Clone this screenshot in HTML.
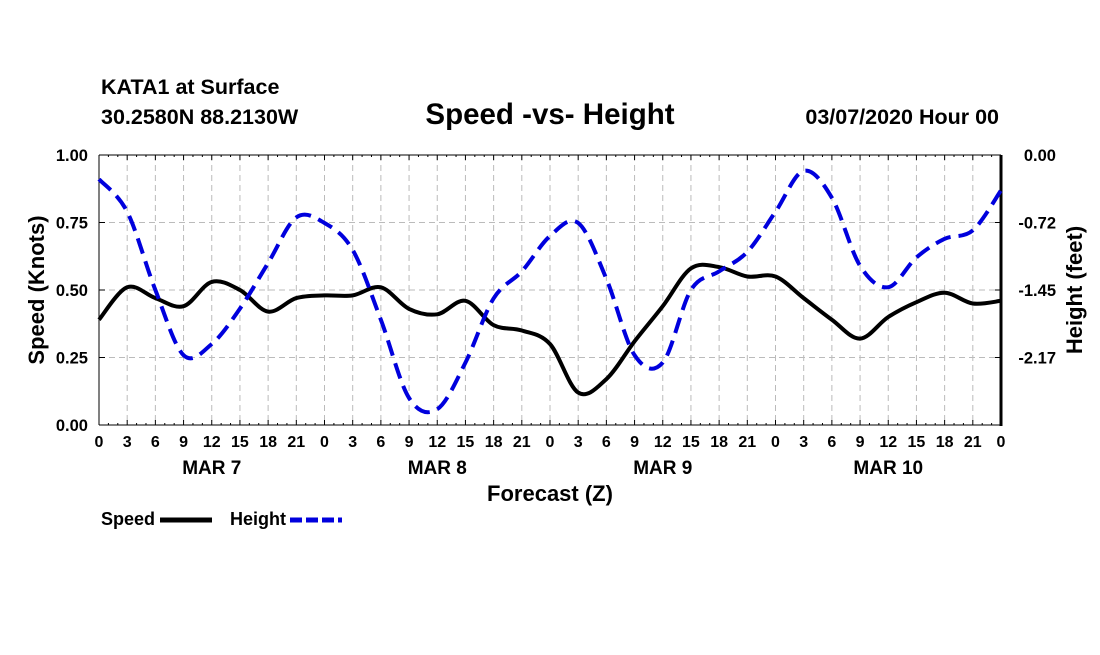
<!DOCTYPE html>
<html><head><meta charset="utf-8"><style>
body{margin:0;background:#fff;width:1100px;height:650px;overflow:hidden}
svg{font-family:"Liberation Sans",sans-serif}
</style></head><body>
<svg id="c" width="1100" height="650">
<text x="101" y="94" font-size="21.5" font-weight="bold">KATA1 at Surface</text>
<text x="101" y="124" font-size="21.5" font-weight="bold">30.2580N 88.2130W</text>
<text x="550" y="124" font-size="29.5" font-weight="bold" text-anchor="middle">Speed -vs- Height</text>
<text x="999" y="124" font-size="21.5" font-weight="bold" text-anchor="end">03/07/2020 Hour 00</text>
<g id="grid"></g><g id="axes"></g><g id="series"></g>
<text x="550" y="501" font-size="22" font-weight="bold" text-anchor="middle">Forecast (Z)</text>
<text transform="translate(44,290) rotate(-90)" font-size="22" font-weight="bold" text-anchor="middle">Speed (Knots)</text>
<text transform="translate(1082,290) rotate(-90)" font-size="22" font-weight="bold" text-anchor="middle">Height (feet)</text>
<g>
<text x="101" y="525" font-size="18" font-weight="bold">Speed</text>
<line x1="160" y1="520" x2="212" y2="520" stroke="#000" stroke-width="5"/>
<text x="230" y="525" font-size="18" font-weight="bold">Height</text>
<line x1="290" y1="520" x2="342" y2="520" stroke="#0000dd" stroke-width="5" stroke-dasharray="12,4"/>
</g>
</svg>
<script>
const hours=[0,3,6,9,12,15,18,21,24,27,30,33,36,39,42,45,48,51,54,57,60,63,66,69,72,75,78,81,84,87,90,93,96];
const speed=[0.39,0.51,0.47,0.44,0.53,0.50,0.42,0.47,0.48,0.48,0.51,0.43,0.41,0.46,0.37,0.35,0.30,0.12,0.17,0.31,0.44,0.58,0.585,0.55,0.55,0.47,0.39,0.32,0.40,0.455,0.49,0.45,0.46];
const height=[-0.26,-0.61,-1.45,-2.15,-2.03,-1.65,-1.16,-0.67,-0.73,-1.02,-1.77,-2.61,-2.73,-2.23,-1.54,-1.25,-0.87,-0.73,-1.33,-2.15,-2.23,-1.45,-1.25,-1.04,-0.61,-0.17,-0.46,-1.19,-1.42,-1.10,-0.90,-0.81,-0.38];
const leftTicks=["0.00","0.25","0.50","0.75","1.00"];
const rightTicks=["0.00","-0.72","-1.45","-2.17"];
const dayLabels=["MAR 7","MAR 8","MAR 9","MAR 10"];
const X0=99,X1=1001,Y0=155,Y1=425,HMAX=96,FMIN=-2.9;
const xs=h=>X0+(X1-X0)*h/HMAX;
const ys=v=>Y1-(Y1-Y0)*v;
const yh=f=>Y0+(Y1-Y0)*(f/FMIN);
const NS="http://www.w3.org/2000/svg";
function mk(p,t,a){const e=document.createElementNS(NS,t);for(const k in a)e.setAttribute(k,a[k]);p.appendChild(e);return e;}
const grid=document.getElementById('grid'),axes=document.getElementById('axes'),ser=document.getElementById('series');
for(let h=3;h<HMAX;h+=3){const g=mk(grid,'line',{x1:xs(h),x2:xs(h),y1:Y0,y2:Y1,stroke:'#bbb','stroke-dasharray':'6,4'});

}
for(let i=1;i<4;i++){const g=mk(grid,'line',{x1:X0,x2:X1,y1:ys(i*0.25),y2:ys(i*0.25),stroke:'#bbb','stroke-dasharray':'6,4'});

}
mk(axes,'line',{x1:X0,x2:X1,y1:Y0,y2:Y0,stroke:'#000','stroke-width':1});
mk(axes,'line',{x1:X0,x2:X1,y1:Y1,y2:Y1,stroke:'#000','stroke-width':1});
mk(axes,'line',{x1:X0,x2:X0,y1:Y0,y2:Y1,stroke:'#000','stroke-width':1});
mk(axes,'line',{x1:X1,x2:X1,y1:Y0,y2:Y1+1,stroke:'#000','stroke-width':3});
for(let h=0;h<=HMAX;h+=3){const x=xs(h);
mk(axes,'line',{x1:x,x2:x,y1:Y1,y2:Y1-5,stroke:'#000'});mk(axes,'line',{x1:x,x2:x,y1:Y0,y2:Y0+5,stroke:'#000'});
const t=mk(axes,'text',{x:x,y:Y1+22,'font-size':16,'font-weight':'bold','text-anchor':'middle'});t.textContent=String(h%24);

}
for(let h=1;h<HMAX;h++){if(h%3){const x=xs(h);mk(axes,'line',{x1:x,x2:x,y1:Y0,y2:Y0+2,stroke:'#000'});mk(axes,'line',{x1:x,x2:x,y1:Y1,y2:Y1-2,stroke:'#000'});}}
dayLabels.forEach((d,i)=>{const t=mk(axes,'text',{x:xs(12+24*i),y:Y1+49,'font-size':19,'font-weight':'bold','text-anchor':'middle'});t.textContent=d;

});
leftTicks.forEach((l,i)=>{const y=ys(i*0.25);mk(axes,'line',{x1:X0,x2:X0+6,y1:y,y2:y,stroke:'#000'});
const t=mk(axes,'text',{x:X0-11,y:y+6,'font-size':16.5,'font-weight':'bold','text-anchor':'end'});t.textContent=l;

});
rightTicks.forEach((l,i)=>{const y=yh(-0.725*i);mk(axes,'line',{x1:X1,x2:X1-6,y1:y,y2:y,stroke:'#000'});
const t=mk(axes,'text',{x:X1+55,y:y+6,'font-size':16.5,'font-weight':'bold','text-anchor':'end'});t.textContent=l;

});
function path(pts){let d=`M${pts[0][0]},${pts[0][1]}`;for(let i=0;i<pts.length-1;i++){const p0=pts[Math.max(i-1,0)],p1=pts[i],p2=pts[i+1],p3=pts[Math.min(i+2,pts.length-1)];
d+=`C${p1[0]+(p2[0]-p0[0])/6},${p1[1]+(p2[1]-p0[1])/6} ${p2[0]-(p3[0]-p1[0])/6},${p2[1]-(p3[1]-p1[1])/6} ${p2[0]},${p2[1]}`;}return d;}
const sp=mk(ser,'path',{d:path(hours.map((h,i)=>[xs(h),ys(speed[i])])),fill:'none',stroke:'#000','stroke-width':4});


const hp=mk(ser,'path',{d:path(hours.map((h,i)=>[xs(h),yh(height[i])])),fill:'none',stroke:'#0000dd','stroke-width':4,'stroke-dasharray':'16,8'});


</script>
</body></html>
